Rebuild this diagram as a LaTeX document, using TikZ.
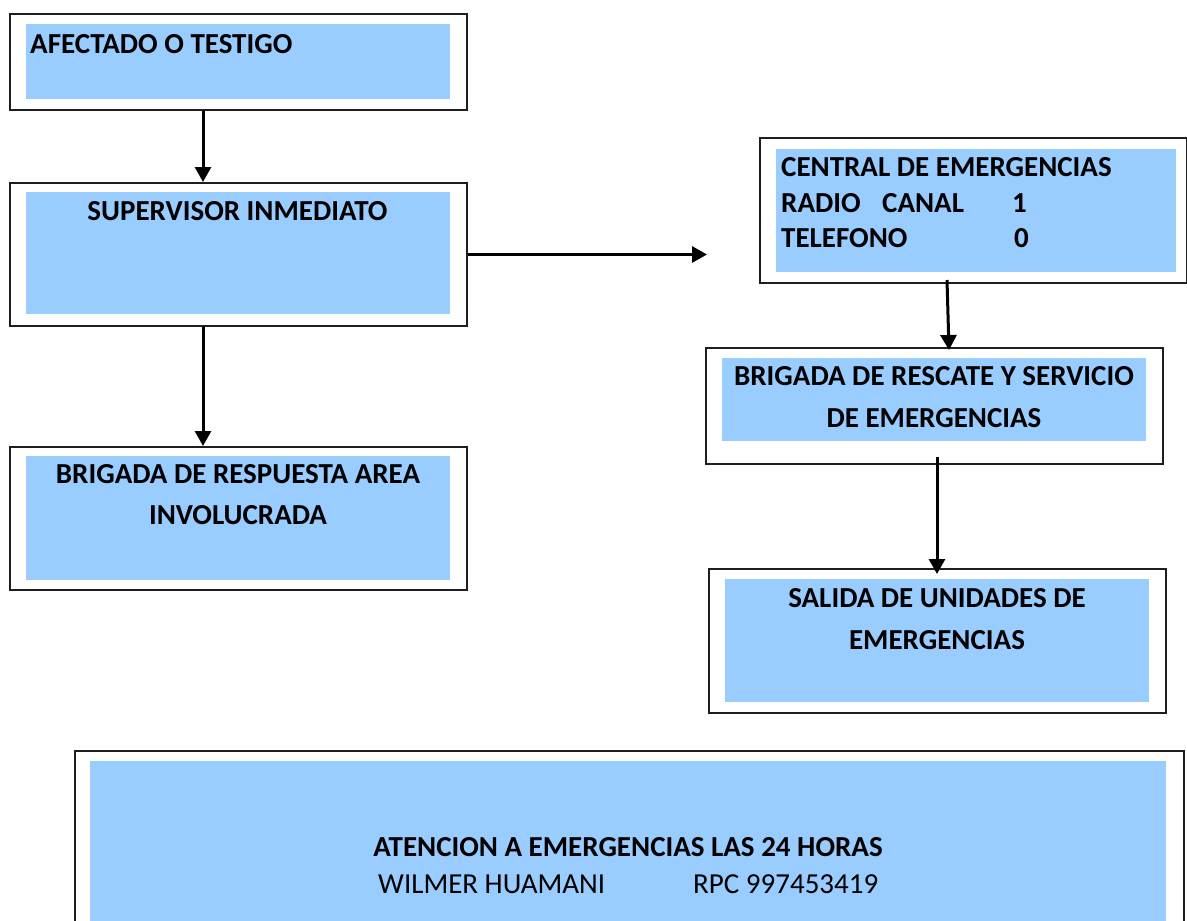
\documentclass[tikz,border=0pt]{standalone}
\usepackage{fontspec}
\setmainfont{Carlito}
\usetikzlibrary{arrows.meta,calc}
\definecolor{boxblue}{RGB}{153,204,255}
\definecolor{edgegray}{RGB}{30,30,30}
\begin{document}
\begin{tikzpicture}[x=1pt,y=-1pt,
  outer/.style={draw=edgegray, line width=2pt, inner sep=0pt, anchor=north west},
  inner/.style={fill=boxblue},
  lbl/.style={anchor=base, inner sep=0pt, font=\fontsize{29}{35}\selectfont\bfseries},
  lblw/.style={lbl, anchor=base west},
  plainw/.style={anchor=base west, inner sep=0pt, font=\fontsize{29}{35}\selectfont},
  conn/.style={line width=3pt, -{Triangle[width=16pt,length=15pt]}}]
\useasboundingbox (0,0) rectangle (1187,921);
\fill[white] (0,0) rectangle (1187,921);

% outer boxes
\node (b1) [outer, minimum width=457pt, minimum height=96pt] at (9,13) {};
\node (b2) [outer, minimum width=457pt, minimum height=143pt] at (9,182) {};
\node (b3) [outer, minimum width=457pt, minimum height=143pt] at (9,446) {};
\node (c)  [outer, minimum width=427pt, minimum height=145pt] at (759,137) {};
\node (r)  [outer, minimum width=457pt, minimum height=116pt] at (705,347) {};
\node (s)  [outer, minimum width=457pt, minimum height=144pt] at (708,568) {};
\node (bt) [outer, minimum width=1109pt, minimum height=200pt] at (74,750) {};

% inner fills
\fill[inner] (26,24) rectangle (450,99);
\fill[inner] (26,192) rectangle (450,314);
\fill[inner] (26,456) rectangle (450,580);
\fill[inner] (776,149) rectangle (1176,272);
\fill[inner] (722,358) rectangle (1146,441);
\fill[inner] (725,579) rectangle (1149,702);
\fill[inner] (90,761) rectangle (1166,930);

% texts
\node (t1) [lblw] at (30,53) {AFECTADO O TESTIGO};
\node (t2) [lbl] at (237.5,220) {SUPERVISOR INMEDIATO};
\node (t3a) [lbl] at (238,483) {BRIGADA DE RESPUESTA AREA};
\node (t3b) [lbl] at (238,524) {INVOLUCRADA};
\node (tc1) [lblw] at (781,176) {CENTRAL DE EMERGENCIAS};
\node (tc2) [lblw] at (781,212) {\rlap{RADIO}\hspace{101pt}\rlap{CANAL}\hspace{130pt}1};
\node (tc3) [lblw] at (781,247) {\rlap{TELEFONO}\hspace{233pt}0};
\node (tr1) [lbl] at (934,385) {BRIGADA DE RESCATE Y SERVICIO};
\node (tr2) [lbl] at (934,427) {DE EMERGENCIAS};
\node (ts1) [lbl] at (937,607) {SALIDA DE UNIDADES DE};
\node (ts2) [lbl] at (937,649) {EMERGENCIAS};
\node (tb1) [lbl] at (628,856) {ATENCION A EMERGENCIAS LAS 24 HORAS};
\node (tb2) [plainw] at (378,893) {\rlap{WILMER HUAMANI}\hspace{315pt}RPC 997453419};

% connectors
\coordinate (hend) at ($(b2.east)+(239,0)$);
\draw[conn] ([xshift=-35.5pt]b1.south) -- ([xshift=-35.5pt]b2.north);
\draw[conn] ([xshift=-35.5pt]b2.south) -- ([xshift=-35.5pt]b3.north);
\draw[conn] (b2.east) -- (hend);
\draw[conn] ([xshift=-26.5pt,yshift=4pt]c.south) -- ([xshift=14.5pt,yshift=-3pt]r.north);
\draw[conn] ([xshift=2.5pt,yshift=8pt]r.south) -- ([xshift=-0.5pt,yshift=-6pt]s.north);
\end{tikzpicture}
\end{document}
